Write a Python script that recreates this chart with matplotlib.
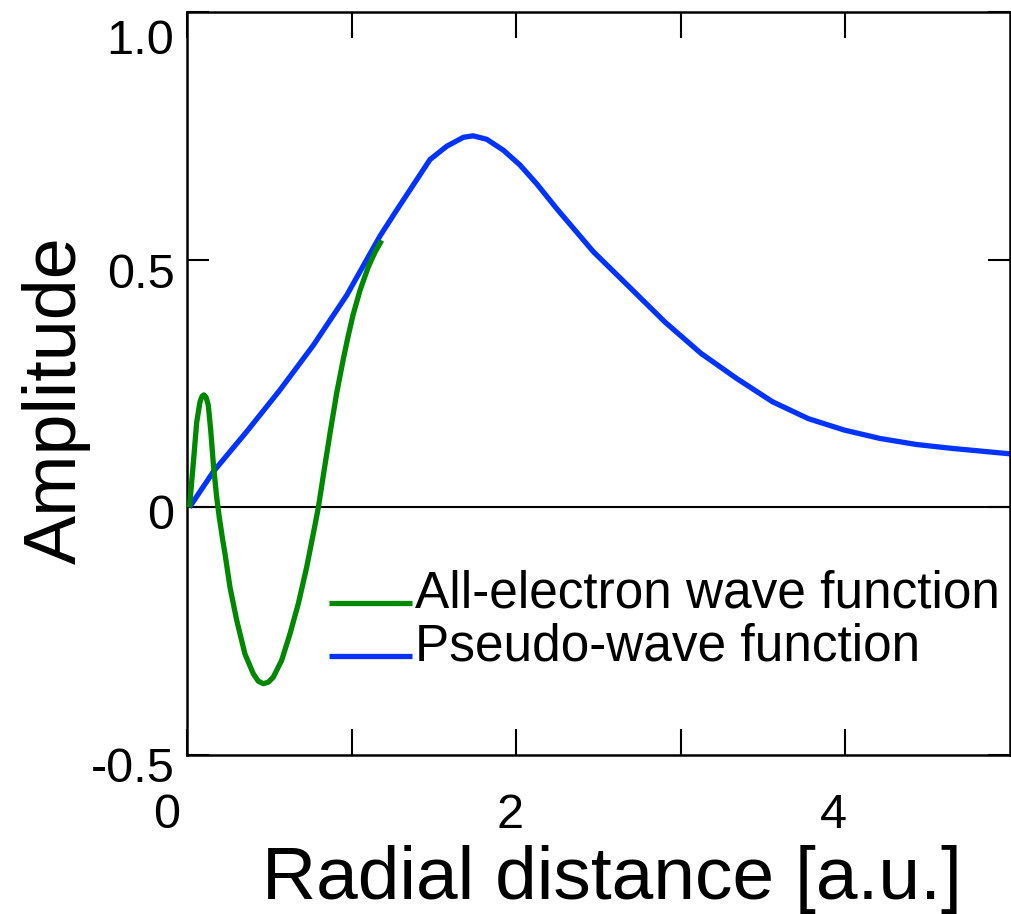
import numpy as np
import matplotlib.pyplot as plt
from matplotlib.transforms import ScaledTranslation

plt.rcParams['font.family'] = ['Liberation Sans', 'DejaVu Sans']

# all-electron wave function
ae_r = [0.015, 0.038, 0.059, 0.079, 0.091, 0.103, 0.116, 0.129, 0.144, 0.160,
        0.180, 0.196, 0.217, 0.231, 0.261, 0.302, 0.352, 0.403, 0.433, 0.464,
        0.494, 0.524, 0.575, 0.626, 0.676, 0.727, 0.778, 0.798, 0.838, 0.869,
        0.909, 0.950, 0.980, 1.010, 1.051, 1.101, 1.142, 1.183]
ae_psi = [0.0, 0.088, 0.172, 0.213, 0.224, 0.227, 0.222, 0.207, 0.156, 0.088,
          0.021, -0.020, -0.066, -0.094, -0.161, -0.228, -0.296, -0.336, -0.351, -0.356,
          -0.353, -0.343, -0.309, -0.255, -0.195, -0.121, -0.035, 0.0, 0.085, 0.150,
          0.230, 0.300, 0.347, 0.390, 0.438, 0.485, 0.515, 0.539]

# pseudo-wave function
ps_r = [0.015, 0.16, 0.363, 0.565, 0.767, 0.970, 1.173, 1.274, 1.375, 1.476,
        1.578, 1.679, 1.739, 1.821, 1.922, 2.023, 2.125, 2.246, 2.469, 2.687,
        2.904, 3.122, 3.340, 3.558, 3.775, 3.993, 4.211, 4.429, 4.647, 5.0]
ps_psi = [0.0, 0.072, 0.153, 0.237, 0.327, 0.428, 0.548, 0.600, 0.651, 0.702,
          0.729, 0.747, 0.750, 0.743, 0.721, 0.691, 0.653, 0.603, 0.516, 0.445,
          0.374, 0.311, 0.260, 0.213, 0.179, 0.156, 0.139, 0.127, 0.119, 0.108]

x_ticks = [0, 1, 2, 3, 4]
x_tick_labels = ['0', '', '2', '', '4']
y_ticks = [-0.5, 0, 0.5, 1.0]
y_tick_labels = ['-0.5', '0', '0.5', '1.0']

labels = ['All-electron wave function', 'Pseudo-wave function']
green = '#008800'
blue = '#0033ff'

fig = plt.figure(figsize=(10.12, 9.14), dpi=100)
ax = fig.add_axes([187 / 1012, 1 - 755 / 914, 823 / 1012, 743 / 914])

ax.axhline(0, color='black', lw=1.5, zorder=1)
ax.plot(ps_r, ps_psi, color=blue, lw=3.8, solid_capstyle='butt',
        solid_joinstyle='round', zorder=2)
ax.plot(ae_r, ae_psi, color=green, lw=3.8, solid_capstyle='butt',
        solid_joinstyle='round', zorder=3)

ax.set_xlim(0, 5)
ax.set_ylim(-0.5, 1.0)
ax.set_xticks(x_ticks)
ax.set_xticklabels(x_tick_labels)
ax.set_yticks(y_ticks)
ax.set_yticklabels(y_tick_labels)
ax.tick_params(axis='x', direction='in', length=19, width=1.5, top=True,
               labelsize=35, pad=27)
ax.tick_params(axis='y', direction='in', length=16, width=1.5, right=True,
               labelsize=35, pad=9)
for s in ax.spines.values():
    s.set_linewidth(1.8)

# tick labels sit a little off their ticks in the original
for lbl, dx in zip(ax.get_xticklabels(), [-20, 0, -6, 0, -12]):
    lbl.set_transform(lbl.get_transform() + ScaledTranslation(dx / 100, 0, fig.dpi_scale_trans))
for lbl, dy in zip(ax.get_yticklabels(), [-9, -4, -11, -25]):
    lbl.set_transform(lbl.get_transform() + ScaledTranslation(0, dy / 100, fig.dpi_scale_trans))

ax.set_xlabel('Radial distance [a.u.]', fontsize=54)
ax.xaxis.set_label_coords(0.516, -0.121)
ax.set_ylabel('Amplitude', fontsize=53)
ax.yaxis.set_label_coords(-0.117, 0.478)

# legend, no frame, handles at the text baseline
for i, (lab, col) in enumerate(zip(labels, [green, blue])):
    y = 0.2046 - i * 0.0715
    ax.plot([0.173, 0.273], [y, y], transform=ax.transAxes, color=col, lw=3.8,
            solid_capstyle='butt', clip_on=False)
    ax.text(0.277, y - 0.006, lab, transform=ax.transAxes, fontsize=37, va='baseline')

fig.savefig('out.png', dpi=100)
